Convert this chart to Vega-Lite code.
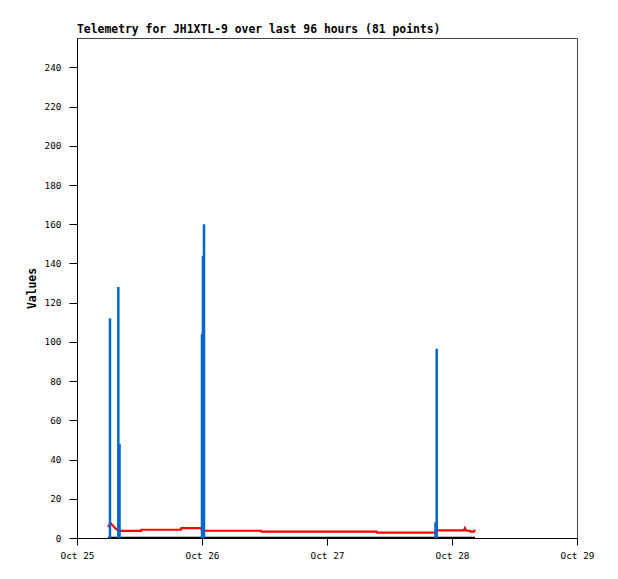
{
  "$schema": "https://vega.github.io/schema/vega-lite/v6.json",
  "width": 500,
  "height": 500,
  "autosize": "none",
  "padding": {"left": 77, "top": 38, "right": 41, "bottom": 41},
  "background": "white",
  "config": {
    "view": {"stroke": "#444444", "strokeWidth": 1},
    "font": "DejaVu Sans Mono"
  },
  "title": {
    "text": "Telemetry for JH1XTL-9 over last 96 hours (81 points)",
    "anchor": "start",
    "frame": "group",
    "font": "DejaVu Sans Mono",
    "fontSize": 11.4,
    "fontWeight": "bold",
    "color": "black",
    "offset": 3
  },
  "datasets": {
    "red": [
      {"t": "2024-10-25T05:57:00Z", "v": 5.6},
      {"t": "2024-10-25T06:26:00Z", "v": 7.6},
      {"t": "2024-10-25T07:29:00Z", "v": 4.6},
      {"t": "2024-10-25T08:04:00Z", "v": 3.6},
      {"t": "2024-10-25T12:17:00Z", "v": 3.6},
      {"t": "2024-10-25T12:21:00Z", "v": 4.2},
      {"t": "2024-10-25T19:58:00Z", "v": 4.3},
      {"t": "2024-10-25T20:02:00Z", "v": 5.0},
      {"t": "2024-10-25T23:49:00Z", "v": 5.0},
      {"t": "2024-10-26T00:00:00Z", "v": 3.7},
      {"t": "2024-10-26T11:20:00Z", "v": 3.7},
      {"t": "2024-10-26T11:23:00Z", "v": 3.3},
      {"t": "2024-10-27T09:32:00Z", "v": 3.3},
      {"t": "2024-10-27T09:36:00Z", "v": 2.7},
      {"t": "2024-10-27T20:44:00Z", "v": 2.7},
      {"t": "2024-10-27T20:50:00Z", "v": 3.9},
      {"t": "2024-10-28T02:18:00Z", "v": 3.9},
      {"t": "2024-10-28T02:30:00Z", "v": 5.0},
      {"t": "2024-10-28T02:41:00Z", "v": 3.9},
      {"t": "2024-10-28T02:53:00Z", "v": 3.7},
      {"t": "2024-10-28T03:28:00Z", "v": 3.7},
      {"t": "2024-10-28T03:33:00Z", "v": 3.3},
      {"t": "2024-10-28T04:13:00Z", "v": 3.3},
      {"t": "2024-10-28T04:25:00Z", "v": 4.2}
    ],
    "black": [
      {"t": "2024-10-25T05:57:00Z", "v": 0},
      {"t": "2024-10-28T04:25:00Z", "v": 0}
    ],
    "blue": [
      {"t": "2024-10-25T06:20:00Z", "v": 112},
      {"t": "2024-10-25T07:56:00Z", "v": 128},
      {"t": "2024-10-25T08:10:00Z", "v": 48},
      {"t": "2024-10-26T00:00:00Z", "v": 104},
      {"t": "2024-10-26T00:11:00Z", "v": 144},
      {"t": "2024-10-26T00:23:00Z", "v": 160},
      {"t": "2024-10-27T20:50:00Z", "v": 8},
      {"t": "2024-10-27T21:04:00Z", "v": 96.5}
    ]
  },
  "encoding": {
    "x": {
      "field": "t",
      "type": "temporal",
      "scale": {"type": "utc", "domain": [{"year": 2024, "month": 10, "date": 25, "utc": true}, {"year": 2024, "month": 10, "date": 29, "utc": true}]},
      "axis": {
        "title": null,
        "values": [
          {"year": 2024, "month": 10, "date": 25, "utc": true},
          {"year": 2024, "month": 10, "date": 26, "utc": true},
          {"year": 2024, "month": 10, "date": 27, "utc": true},
          {"year": 2024, "month": 10, "date": 28, "utc": true},
          {"year": 2024, "month": 10, "date": 29, "utc": true}
        ],
        "labelExpr": "utcFormat(datum.value, '%b %d')",
        "grid": false,
        "domainColor": "black",
        "tickColor": "black",
        "tickSize": 7,
        "labelFont": "DejaVu Sans Mono",
        "labelFontSize": 9.4,
        "labelColor": "black",
        "labelPadding": 6,
        "labelFlush": false,
        "labelOverlap": false
      }
    },
    "y": {
      "field": "v",
      "type": "quantitative",
      "scale": {"domain": [0, 255], "nice": false},
      "axis": {
        "title": "Values",
        "titleFont": "DejaVu Sans Mono",
        "titleFontSize": 11.4,
        "titleFontWeight": "bold",
        "titleColor": "black",
        "titlePadding": 7,
        "values": [0, 20, 40, 60, 80, 100, 120, 140, 160, 180, 200, 220, 240],
        "grid": false,
        "domainColor": "black",
        "tickColor": "black",
        "tickSize": 8,
        "labelFont": "DejaVu Sans Mono",
        "labelFontSize": 9.4,
        "labelColor": "black",
        "labelPadding": 8
      }
    }
  },
  "layer": [
    {
      "data": {"name": "black"},
      "mark": {"type": "line", "color": "black", "strokeWidth": 2.5, "clip": true}
    },
    {
      "data": {"name": "red"},
      "mark": {"type": "line", "color": "#ff0000", "strokeWidth": 2.2}
    },
    {
      "data": {"name": "blue"},
      "mark": {"type": "rule", "color": "#0066cc", "strokeWidth": 2.5},
      "encoding": {"y2": {"datum": 0}}
    }
  ]
}
